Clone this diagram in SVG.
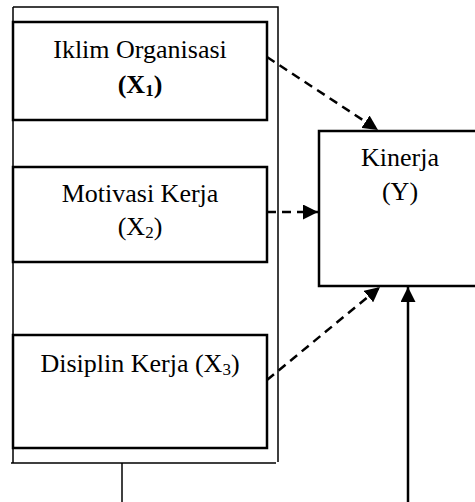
<svg xmlns="http://www.w3.org/2000/svg" width="475" height="502" viewBox="0 0 475 502">
<style>
text{font-family:"Liberation Serif","Times New Roman",serif;font-size:26px;fill:#000;text-anchor:middle}
.sub{font-size:17px}
.box{fill:#fff;stroke:#000;stroke-width:2.5}
.thin{fill:none;stroke:#000;stroke-width:1.5}
.dash{fill:none;stroke:#000;stroke-width:2.5;stroke-dasharray:9 6}
.solid{fill:none;stroke:#000;stroke-width:2.5}
</style>
<defs>
<marker id="ah" viewBox="0 0 10 10" refX="10" refY="5" markerWidth="6" markerHeight="6" markerUnits="strokeWidth" orient="auto">
<path d="M0,0 L10,5 L0,10 Z" fill="#000"/>
</marker>
</defs>
<g id="group-frame">
<path class="thin" d="M13,7 H278 V462 M13,7 V463 M11,463 H276"/>
</g>
<g id="node-x1">
<rect class="box" x="13" y="22" width="254" height="98"/>
<text x="140" y="58">Iklim Organisasi</text>
<text x="140" y="93" font-weight="bold">(X<tspan class="sub" dy="3">1</tspan><tspan dy="-3">)</tspan></text>
</g>
<g id="node-x2">
<rect class="box" x="13" y="167" width="254" height="95"/>
<text x="140" y="202">Motivasi Kerja</text>
<text x="140" y="235">(X<tspan class="sub" dy="3">2</tspan><tspan dy="-3">)</tspan></text>
</g>
<g id="node-x3">
<rect class="box" x="13" y="335" width="254" height="113"/>
<text x="140" y="372">Disiplin Kerja (X<tspan class="sub" dy="3">3</tspan><tspan dy="-3">)</tspan></text>
</g>
<g id="node-y">
<rect class="box" x="319" y="131" width="170" height="155"/>
<text x="400" y="166">Kinerja</text>
<text x="400" y="200">(Y)</text>
</g>
<g id="connectors">
<line class="dash" x1="267" y1="57" x2="378" y2="130" marker-end="url(#ah)"/>
<line class="dash" x1="267" y1="212" x2="318" y2="212" marker-end="url(#ah)"/>
<line class="dash" x1="267" y1="380" x2="380" y2="287" marker-end="url(#ah)"/>
<line class="solid" x1="408" y1="502" x2="408" y2="287" marker-end="url(#ah)"/>
<line class="thin" x1="122" y1="463" x2="122" y2="502"/>
</g>
</svg>
